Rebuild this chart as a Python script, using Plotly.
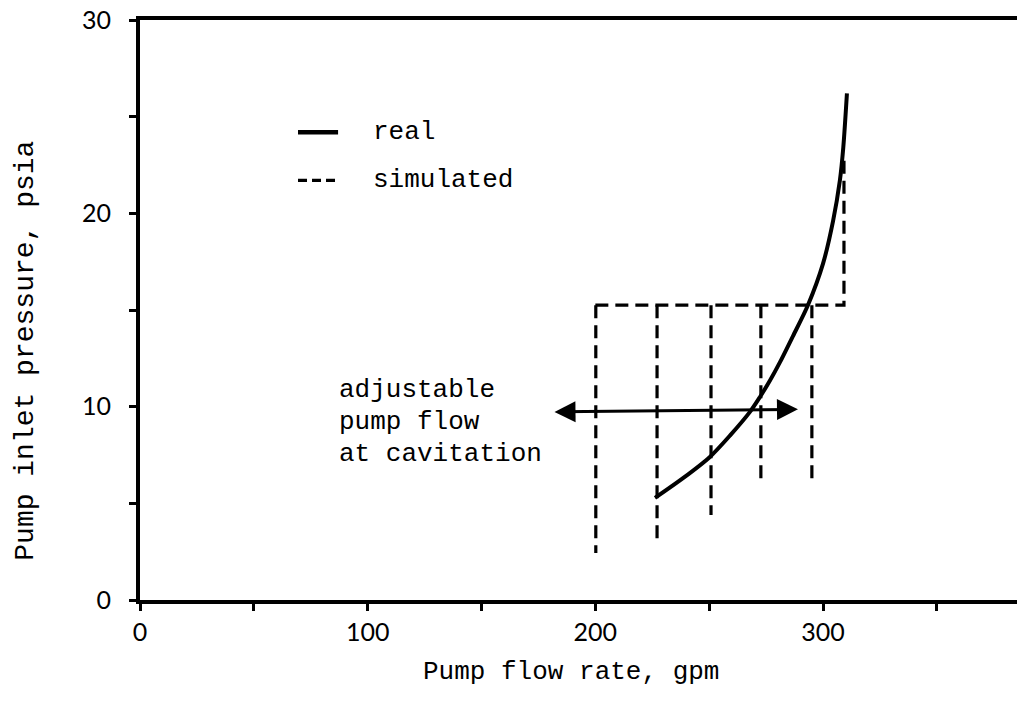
import plotly.graph_objects as go

# Measured pump characteristic (real)
real_flow = [226.2, 238.5, 250.3, 259.1, 267.9, 272.3, 276.7, 281.1, 286.8,
             293.4, 300.0, 304.4, 307.4, 308.9, 310.5]
real_pressure = [5.28, 6.3, 7.4, 8.5, 9.73, 10.5, 11.35, 12.3, 13.65,
                 15.26, 17.4, 19.6, 21.7, 23.4, 26.2]

# Simulated characteristic: horizontal plateau with vertical drops
sim_plateau_flow = [200, 309.2]
sim_plateau_pressure = 15.25
sim_top_pressure = 22.9
sim_drop_flow = [200.2, 227.1, 250.8, 272.7, 295.1]
sim_drop_bottom = [2.43, 2.85, 4.4, 6.1, 6.05]

# Adjustable cavitation flow arrow
arrow_flow = [181.4, 289.0]
arrow_pressure = [9.73, 9.86]

x_ticks = [0, 50, 100, 150, 200, 250, 300, 350]
x_labels = ["0", "", "100", "", "200", "", "300", ""]
y_ticks = [0, 5, 10, 15, 20, 25, 30]
y_labels = ["0", "", "10", "", "20", "", "30"]

note_lines = ["adjustable", "pump flow", "at cavitation"]
note_y = [10.86, 9.2, 7.55]

MONO = "Courier New, Liberation Mono, monospace"
SANS = "Lato, Noto Sans, sans-serif"
DASH = "13px,7px"

fig = go.Figure()

# real curve
fig.add_trace(go.Scatter(x=real_flow, y=real_pressure, mode="lines",
                         line=dict(color="black", width=4, shape="spline", smoothing=0.8),
                         showlegend=False, hoverinfo="skip"))

# simulated plateau with right-hand rise
fig.add_trace(go.Scatter(
    x=[sim_plateau_flow[0], sim_plateau_flow[1], sim_plateau_flow[1]],
    y=[sim_plateau_pressure, sim_plateau_pressure, sim_top_pressure],
    mode="lines", line=dict(color="black", width=3.2, dash=DASH),
    showlegend=False, hoverinfo="skip"))

# simulated vertical drops
for fx, fb in zip(sim_drop_flow, sim_drop_bottom):
    fig.add_trace(go.Scatter(x=[fx, fx], y=[sim_plateau_pressure, fb], mode="lines",
                             line=dict(color="black", width=3.2, dash=DASH),
                             showlegend=False, hoverinfo="skip"))

# legend samples
legend_x = [69.4, 87.0]
legend_y = [24.2, 21.7]
fig.add_trace(go.Scatter(x=legend_x, y=[legend_y[0]] * 2, mode="lines",
                         line=dict(color="black", width=4.5),
                         showlegend=False, hoverinfo="skip"))
fig.add_trace(go.Scatter(x=legend_x, y=[legend_y[1]] * 2, mode="lines",
                         line=dict(color="black", width=3.2, dash="9px,5px"),
                         showlegend=False, hoverinfo="skip"))
for txt, ly in zip(["real", "simulated"], legend_y):
    fig.add_annotation(x=101.4, y=ly, text=txt, showarrow=False, xanchor="left",
                       yanchor="middle", font=dict(family=MONO, size=26, color="black"))

# double-headed arrow
fig.add_annotation(x=arrow_flow[1], y=arrow_pressure[1], ax=arrow_flow[0], ay=arrow_pressure[0],
                   xref="x", yref="y", axref="x", ayref="y", text="", showarrow=True,
                   arrowhead=2, startarrowhead=2, arrowside="end+start",
                   arrowsize=1.4, startarrowsize=1.4, arrowwidth=3, arrowcolor="black")

for txt, ny in zip(note_lines, note_y):
    fig.add_annotation(x=86.5, y=ny, text=txt, showarrow=False, xanchor="left",
                       yanchor="middle", font=dict(family=MONO, size=26, color="black"))

# axis titles
fig.add_annotation(x=0.491, y=-0.095, xref="paper", yref="paper", text="Pump flow rate, gpm",
                   showarrow=False, xanchor="center", yanchor="top",
                   font=dict(family=MONO, size=26, color="black"))
fig.add_annotation(x=-0.131, y=0.43, xref="paper", yref="paper",
                   text="Pump inlet pressure, psia", textangle=-90,
                   showarrow=False, xanchor="center", yanchor="middle",
                   font=dict(family=MONO, size=28, color="black"))

fig.update_xaxes(range=[0, 385.2], showgrid=False, zeroline=False,
                 showline=True, linecolor="black", linewidth=4, mirror=True,
                 ticks="outside", ticklen=7, tickwidth=3, tickcolor="black",
                 tickvals=x_ticks, ticktext=x_labels, ticklabelstandoff=0,
                 tickfont=dict(family=SANS, size=25, color="black"))
fig.update_yaxes(range=[0, 30], showgrid=False, zeroline=False,
                 showline=True, linecolor="black", linewidth=4, mirror=False,
                 ticks="outside", ticklen=7, tickwidth=3, tickcolor="black",
                 tickvals=y_ticks, ticktext=y_labels, ticklabelstandoff=13,
                 tickfont=dict(family=SANS, size=25, color="black"))

fig.update_layout(width=1017, height=706, margin=dict(l=140, r=0, t=20, b=106),
                  plot_bgcolor="white", paper_bgcolor="white", showlegend=False)

fig.write_html("out.html")
